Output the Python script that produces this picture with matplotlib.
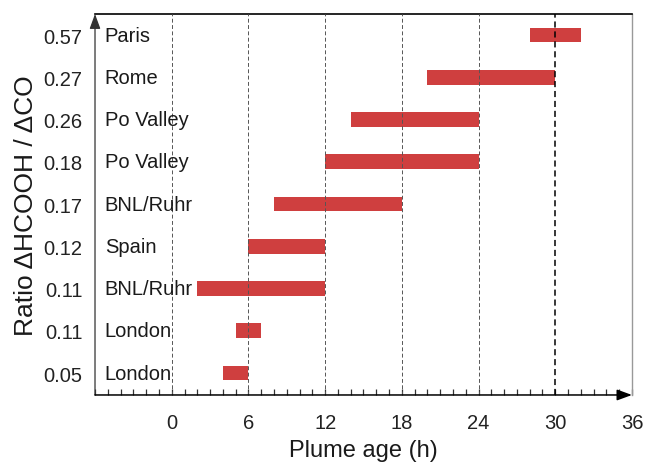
import matplotlib.pyplot as plt
from matplotlib.ticker import MultipleLocator

# ratio labels and sites, bottom row first
ratios = ['0.05', '0.11', '0.11', '0.12', '0.17', '0.18', '0.26', '0.27', '0.57']
sites = ['London', 'London', 'BNL/Ruhr', 'Spain', 'BNL/Ruhr',
         'Po Valley', 'Po Valley', 'Rome', 'Paris']
age_start = [4, 5, 2, 6, 8, 12, 14, 20, 28]
age_end = [6, 7, 12, 12, 18, 24, 24, 30, 32]

x_ticks = [0, 6, 12, 18, 24, 30, 36]
grid_x = [0, 6, 12, 18, 24, 30]

plt.rcParams['font.family'] = ['Liberation Sans', 'DejaVu Sans']

fig = plt.figure(figsize=(6.45, 4.64), dpi=100)
ax = fig.add_axes([0.1473, 0.1466, 0.8325, 0.8211])

rows = list(range(len(sites)))
widths = [e - s for s, e in zip(age_start, age_end)]
ax.barh(rows, widths, left=age_start, height=0.35, color='#cf3f3f', zorder=2)

for gx in grid_x:
    if gx == 30:
        ax.axvline(gx, color='black', lw=1.1, ls=(0, (4, 2.5)), zorder=3)
    else:
        ax.axvline(gx, color='#555555', lw=0.7, ls=(0, (4, 2.5)), zorder=3)

for i, name in enumerate(sites):
    ax.text(0.018, i, name, transform=ax.get_yaxis_transform(),
            va='center', ha='left', fontsize=14.5, color='#1a1a1a')

ax.set_xlim(-6, 36)
ax.set_ylim(-0.52, 8.5)

ax.set_yticks(rows, ratios)
ax.tick_params(axis='y', length=0, pad=9, labelsize=14.5, colors='#222222')

ax.set_xticks(x_ticks)
ax.xaxis.set_minor_locator(MultipleLocator(1))
ax.tick_params(axis='x', which='both', direction='in', length=4.5,
               width=0.9, color='#333333', labelsize=14.5, pad=13,
               labelcolor='#222222')

ax.set_xlabel('Plume age (h)', fontsize=17, labelpad=5, color='#1a1a1a')
ax.set_ylabel('Ratio ΔHCOOH / ΔCO', fontsize=19, labelpad=4, color='#1a1a1a')

ax.spines['left'].set_visible(False)
ax.spines['bottom'].set_visible(False)
ax.spines['top'].set_color('black')
ax.spines['top'].set_linewidth(1.2)
ax.spines['right'].set_color('#999999')
ax.spines['right'].set_linewidth(1.0)

# axis lines with arrow heads
ax.annotate('', xy=(0, 1.0), xytext=(0, 0), xycoords='axes fraction',
            arrowprops=dict(arrowstyle='-|>,head_length=0.9,head_width=0.33',
                            color='#333333', lw=0.9, shrinkA=0, shrinkB=0),
            annotation_clip=False, zorder=5)
ax.annotate('', xy=(1.0, 0), xytext=(0, 0), xycoords='axes fraction',
            arrowprops=dict(arrowstyle='-|>,head_length=0.9,head_width=0.33',
                            color='black', lw=1.1, shrinkA=0, shrinkB=0),
            annotation_clip=False, zorder=5)

fig.savefig('out.png', dpi=100)
